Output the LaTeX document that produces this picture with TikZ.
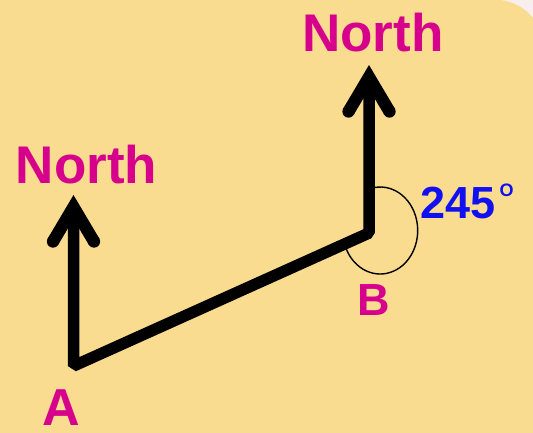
\documentclass[tikz,border=0pt]{standalone}
\usepackage{fontspec}
\setmainfont{Liberation Sans}
\definecolor{bgyellow}{RGB}{250,220,145}
\definecolor{bgpale}{RGB}{248,238,238}
\definecolor{magentalbl}{RGB}{214,0,140}
\definecolor{bluelbl}{RGB}{16,16,240}
\tikzset{
  lbl/.style={inner sep=0pt, text=magentalbl, font=\bfseries},
  path/.style={line width=11.5pt, black, line join=bevel},
  anglearc/.style={line width=1.4pt, black},
}
\newcommand{\northhead}[1]{%
  \fill[black, shift={(#1)}] (0,0) -- (-25.8,43.5) -- (-15.2,49.6) -- (-5.5,33.3)
    -- (5.5,33.3) -- (15.2,49.6) -- (25.8,43.5) -- cycle;
  \fill[black, shift={(#1)}] (-20.5,46.5) circle[radius=6.15];
  \fill[black, shift={(#1)}] (20.5,46.5) circle[radius=6.15];
}
\begin{document}
\begin{tikzpicture}[x=1pt, y=-1pt]
  \useasboundingbox (0,0) rectangle (533,432);
  % background
  \begin{scope}
    \clip (0,0) rectangle (533,432);
    \fill[bgpale] (0,0) rectangle (533,432);
    \fill[bgyellow, rounded corners=49pt] (-80,-0.3) rectangle (543.9,520);
  \end{scope}

  % points
  \coordinate (tipA) at (73.5,195);
  \coordinate (A) at (73.5,366);
  \coordinate (B) at (369,233);
  \coordinate (tipB) at (369,65);
  \coordinate (C) at (380.2,230.5);

  % angle arc
  \draw[anglearc] ([shift={(-99:37.5 and 43.5)}]C) arc[start angle=-99, end angle=155, x radius=37.5, y radius=43.5];

  % main path
  \draw[path] ([yshift=-30pt]tipA) -- (A) -- (B) -- ([yshift=-30pt]tipB);
  \northhead{tipA}
  \northhead{tipB}

  % labels
  \node[lbl, font=\fontsize{53}{60}\selectfont\bfseries, anchor=base] (northA) at (86.5,183) {North};
  \node[lbl, font=\fontsize{53}{60}\selectfont\bfseries, anchor=base] (northB) at (372.8,51.7) {North};
  \node[lbl, font=\fontsize{52}{60}\selectfont\bfseries, anchor=base] (labA) at (61.3,425.5) {A};
  \node[lbl, font=\fontsize{45}{52}\selectfont\bfseries, anchor=base] (labB) at (373.3,315.7) {B};
  \node[inner sep=0pt, text=bluelbl, font=\fontsize{45}{52}\selectfont\bfseries, anchor=base west] (ang) at (420.5,218.3) {245};
  \node[inner sep=0pt, text=bluelbl, font=\fontsize{18}{20}\selectfont\bfseries, anchor=base west] (deg) at (499.5,196.5) {O};
\end{tikzpicture}
\end{document}
